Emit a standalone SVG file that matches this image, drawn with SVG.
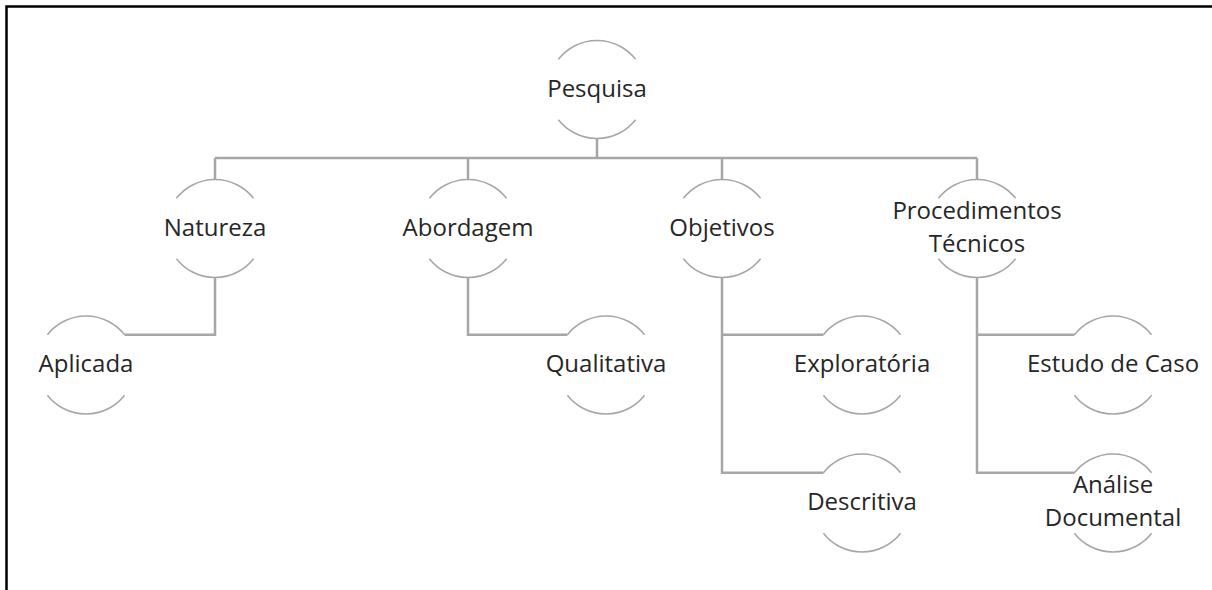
<svg xmlns="http://www.w3.org/2000/svg" xmlns:xlink="http://www.w3.org/1999/xlink" width="1212" height="590" viewBox="0 0 1212 590">
  <style>
    .bg { fill: #ffffff; }
    .frame { fill: none; stroke: #000000; stroke-width: 2.5; }
    .arc { fill: none; stroke: #a6a6a6; stroke-width: 1.5; }
    .conn { fill: none; stroke: #a6a6a6; stroke-width: 2.5; }
    .lbl { font-family: "Open Sans", "Liberation Sans", sans-serif; font-size: 24px; fill: #262626; text-anchor: middle; }
  </style>
  <defs>
    <path id="ring" class="arc" d="M-38.6 -30.2 A49 49 0 0 1 38.6 -30.2 M-38.6 30.2 A49 49 0 0 0 38.6 30.2"/>
  </defs>
  <rect class="bg" x="0" y="0" width="1212" height="590"/>
  <path class="frame" d="M6.5 590 V6.5 H1212"/>

  <g id="connectors">
    <path class="conn" d="M597 138.5 V158 M215 158 H977 M215 158 V180 M468 158 V180 M722 158 V180 M977 158 V180"/>
    <path class="conn" d="M215 277.5 V334.8 H124.6"/>
    <path class="conn" d="M468 277.5 V334.8 H567.4"/>
    <path class="conn" d="M722 277.5 V472.8 H823.4 M722 334.8 H823.4"/>
    <path class="conn" d="M977 277.5 V472.8 H1074.4 M977 334.8 H1074.4"/>
  </g>

  <g id="pesquisa" transform="translate(597,89.5)">
    <use xlink:href="#ring"/>
    <text class="lbl" x="0" y="7">Pesquisa</text>
  </g>
  <g id="natureza" transform="translate(215,228.5)">
    <use xlink:href="#ring"/>
    <text class="lbl" x="0" y="7">Natureza</text>
  </g>
  <g id="abordagem" transform="translate(468,228.5)">
    <use xlink:href="#ring"/>
    <text class="lbl" x="0" y="7">Abordagem</text>
  </g>
  <g id="objetivos" transform="translate(722,228.5)">
    <use xlink:href="#ring"/>
    <text class="lbl" x="0" y="7">Objetivos</text>
  </g>
  <g id="procedimentos" transform="translate(977,228.5)">
    <use xlink:href="#ring"/>
    <text class="lbl" x="0" y="-10">Procedimentos</text>
    <text class="lbl" x="0" y="23">Técnicos</text>
  </g>
  <g id="aplicada" transform="translate(86,365)">
    <use xlink:href="#ring"/>
    <text class="lbl" x="0" y="7">Aplicada</text>
  </g>
  <g id="qualitativa" transform="translate(606,365)">
    <use xlink:href="#ring"/>
    <text class="lbl" x="0" y="7">Qualitativa</text>
  </g>
  <g id="exploratoria" transform="translate(862,365)">
    <use xlink:href="#ring"/>
    <text class="lbl" x="0" y="7">Exploratória</text>
  </g>
  <g id="descritiva" transform="translate(862,503)">
    <use xlink:href="#ring"/>
    <text class="lbl" x="0" y="7">Descritiva</text>
  </g>
  <g id="estudo-de-caso" transform="translate(1113,365)">
    <use xlink:href="#ring"/>
    <text class="lbl" x="0" y="7">Estudo de Caso</text>
  </g>
  <g id="analise-documental" transform="translate(1113,503)">
    <use xlink:href="#ring"/>
    <text class="lbl" x="0" y="-10">Análise</text>
    <text class="lbl" x="0" y="23">Documental</text>
  </g>
</svg>
